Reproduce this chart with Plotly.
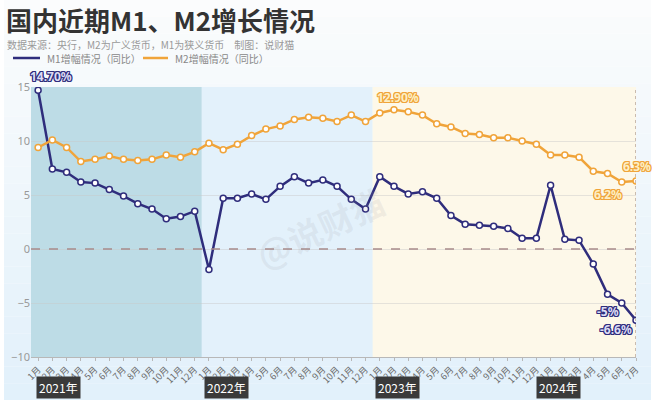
import plotly.graph_objects as go

years = ["2021年", "2022年", "2023年", "2024年"]
months_per_year = [12, 12, 12, 7]
month_labels = [f"{m}月" for n in months_per_year for m in range(1, n + 1)]

m1 = [14.7, 7.4, 7.1, 6.2, 6.1, 5.5, 4.9, 4.2, 3.7, 2.8, 3.0, 3.5,
      -1.9, 4.7, 4.7, 5.1, 4.6, 5.8, 6.7, 6.1, 6.4, 5.8, 4.6, 3.7,
      6.7, 5.8, 5.1, 5.3, 4.7, 3.1, 2.3, 2.2, 2.1, 1.9, 1.0, 1.0,
      5.9, 0.9, 0.8, -1.4, -4.2, -5.0, -6.6]
m2 = [9.4, 10.1, 9.4, 8.1, 8.3, 8.6, 8.3, 8.2, 8.3, 8.7, 8.5, 9.0,
      9.8, 9.2, 9.7, 10.5, 11.1, 11.4, 12.0, 12.2, 12.1, 11.8, 12.4, 11.8,
      12.6, 12.9, 12.7, 12.4, 11.6, 11.3, 10.7, 10.6, 10.3, 10.3, 10.0, 9.7,
      8.7, 8.7, 8.5, 7.2, 7.0, 6.2, 6.3]

series_names = ["M1增幅情况（同比）", "M2增幅情况（同比）"]

# labelled points: (index, text)
m1_labels = [(0, "14.70%"), (41, "-5%"), (42, "-6.6%")]
m2_labels = [(25, "12.90%"), (41, "6.2%"), (42, "6.3%")]

C1 = "#2f2d7c"
C2 = "#f0a43a"
x = list(range(len(month_labels)))

fig = go.Figure()

W, H = 660, 410
L, R, T, B = 31, 24, 87, 53
pw, ph = W - L - R, H - T - B


def px2x(p):
    return (p - L) / pw


def py2y(p):
    return (H - B - p) / ph


shapes = []
# background gradient of the card
n = 24
top_c = (251, 252, 253)
bot_c = (226, 241, 251)
for i in range(n):
    t = i / (n - 1)
    c = tuple(int(top_c[k] + (bot_c[k] - top_c[k]) * t) for k in range(3))
    y0 = 400 * i / n
    y1 = 400 * (i + 1) / n
    shapes.append(dict(type="rect", xref="paper", yref="paper",
                       x0=px2x(4), x1=px2x(651), y0=py2y(y1), y1=py2y(y0),
                       fillcolor=f"rgb{c}", line_width=0, layer="below"))

# year bands
band_cols = ["#bddce6", "#e3f1fb", "#fdf8e9"]
starts = [0, 12, 24]
ends = [12, 24, 43]
for s, e, c in zip(starts, ends, band_cols):
    shapes.append(dict(type="rect", xref="x", yref="y", x0=s - 0.5,
                       x1=min(e - 0.5, len(x) - 1), y0=-10, y1=15,
                       fillcolor=c, line_width=0, layer="below"))

# zero dashed line
shapes.append(dict(type="line", xref="x", yref="y", x0=-0.5, x1=len(x) - 1,
                   y0=0, y1=0, line=dict(color="#a88a8a", width=1.5, dash="dash")))
# vertical dotted line at last point
shapes.append(dict(type="line", xref="x", yref="y", x0=len(x) - 1, x1=len(x) - 1,
                   y0=-10, y1=15, line=dict(color="#b09a90", width=1.3, dash="dot")))

fig.add_trace(go.Scatter(x=x, y=m1, mode="lines+markers", name=series_names[0],
                         line=dict(color=C1, width=2.5),
                         marker=dict(size=6, color="white", line=dict(color=C1, width=1.5)),
                         showlegend=False))
fig.add_trace(go.Scatter(x=x, y=m2, mode="lines+markers", name=series_names[1],
                         line=dict(color=C2, width=2.5),
                         marker=dict(size=6, color="white", line=dict(color=C2, width=1.5)),
                         showlegend=False))


def outline(col):
    return ", ".join(f"{dx}px {dy}px 0 {col}" for dx, dy in
                     [(-1, -1), (1, -1), (-1, 1), (1, 1), (0, 1), (0, -1), (1, 0), (-1, 0)])


annotations = []
shift1 = {0: (13, 14), 41: (-14, -8), 42: (-20, -9)}
shift2 = {25: (4, 12), 41: (-14, -12), 42: (1, 14)}
for idx, txt in m1_labels:
    dx, dy = shift1[idx]
    annotations.append(dict(x=idx, y=m1[idx], text=txt, showarrow=False,
                            xshift=dx, yshift=dy,
                            font=dict(family="Noto Sans", size=12, color="#dcdcf4",
                                      weight="bold", shadow=outline(C1))))
for idx, txt in m2_labels:
    dx, dy = shift2[idx]
    annotations.append(dict(x=idx, y=m2[idx], text=txt, showarrow=False,
                            xshift=dx, yshift=dy,
                            font=dict(family="Noto Sans", size=12, color="#fdefc4",
                                      weight="bold", shadow=outline(C2))))

# year boxes
year_x = [-0.15, 11.63, 23.7, 35.0]
for yx, yl in zip(year_x, years):
    annotations.append(dict(x=yx, y=py2y(388), xref="x", yref="paper", text=yl,
                            showarrow=False, xanchor="left", yanchor="middle",
                            bgcolor="#3a3a3a", borderpad=2,
                            font=dict(family="Noto Sans CJK SC", size=12, color="white")))

# manual legend
leg_y = py2y(58)
for (lx0, lx1, tx), col, name in zip([(13, 40, 45), (143, 168, 173)], [C1, C2], series_names):
    shapes.append(dict(type="line", xref="paper", yref="paper", x0=px2x(lx0), x1=px2x(lx1),
                       y0=leg_y, y1=leg_y, line=dict(color=col, width=2.5)))
    annotations.append(dict(x=px2x(tx), y=leg_y, xref="paper", yref="paper", text=name,
                            showarrow=False, xanchor="left", yanchor="middle",
                            font=dict(family="Noto Sans CJK SC", size=10, color="#888888")))

# title & subtitle
annotations.append(dict(x=px2x(5), y=py2y(0), xref="paper", yref="paper",
                        text="<b>国内近期M1、M2增长情况</b>", showarrow=False,
                        xanchor="left", yanchor="top", borderpad=0,
                        font=dict(family="Noto Sans CJK SC", size=26, color="#333333")))
annotations.append(dict(x=px2x(6), y=py2y(44), xref="paper", yref="paper",
                        text="数据来源：央行，M2为广义货币，M1为狭义货币　制图：说财猫",
                        showarrow=False, xanchor="left", yanchor="middle", borderpad=0,
                        font=dict(family="Noto Sans CJK SC", size=10, color="#9a9a9a")))
# watermark
annotations.append(dict(x=px2x(320), y=py2y(228), xref="paper", yref="paper",
                        text="@说财猫", showarrow=False, textangle=-25,
                        font=dict(family="Noto Sans CJK SC", size=34,
                                  color="rgba(150,150,160,0.13)", weight="bold")))

fig.update_layout(
    width=W, height=H,
    margin=dict(l=L, r=R, t=T, b=B, autoexpand=False),
    paper_bgcolor="white", plot_bgcolor="rgba(0,0,0,0)",
    shapes=shapes, annotations=annotations,
    showlegend=False,
    xaxis=dict(range=[-0.5, len(x) - 1], tickmode="array", tickvals=x, ticktext=month_labels,
               tickangle=-45, tickfont=dict(family="Noto Sans CJK SC", size=9, color="#6a6a6a"),
               showgrid=False, zeroline=False, showline=True, linecolor="#b8b8b8",
               ticks="outside", ticklen=3, tickcolor="#b8b8b8", automargin=False),
    yaxis=dict(range=[-10, 15], tickvals=[-10, -5, 0, 5, 10, 15], ticksuffix="%",
               tickfont=dict(family="Noto Sans", size=11, color="#999999"),
               showgrid=True, gridcolor="rgba(200,200,200,0.45)", zeroline=False,
               showline=False, automargin=False),
)

fig.write_html("out.html", config={"displayModeBar": False},
               post_script="document.body.style.margin='0px';")
